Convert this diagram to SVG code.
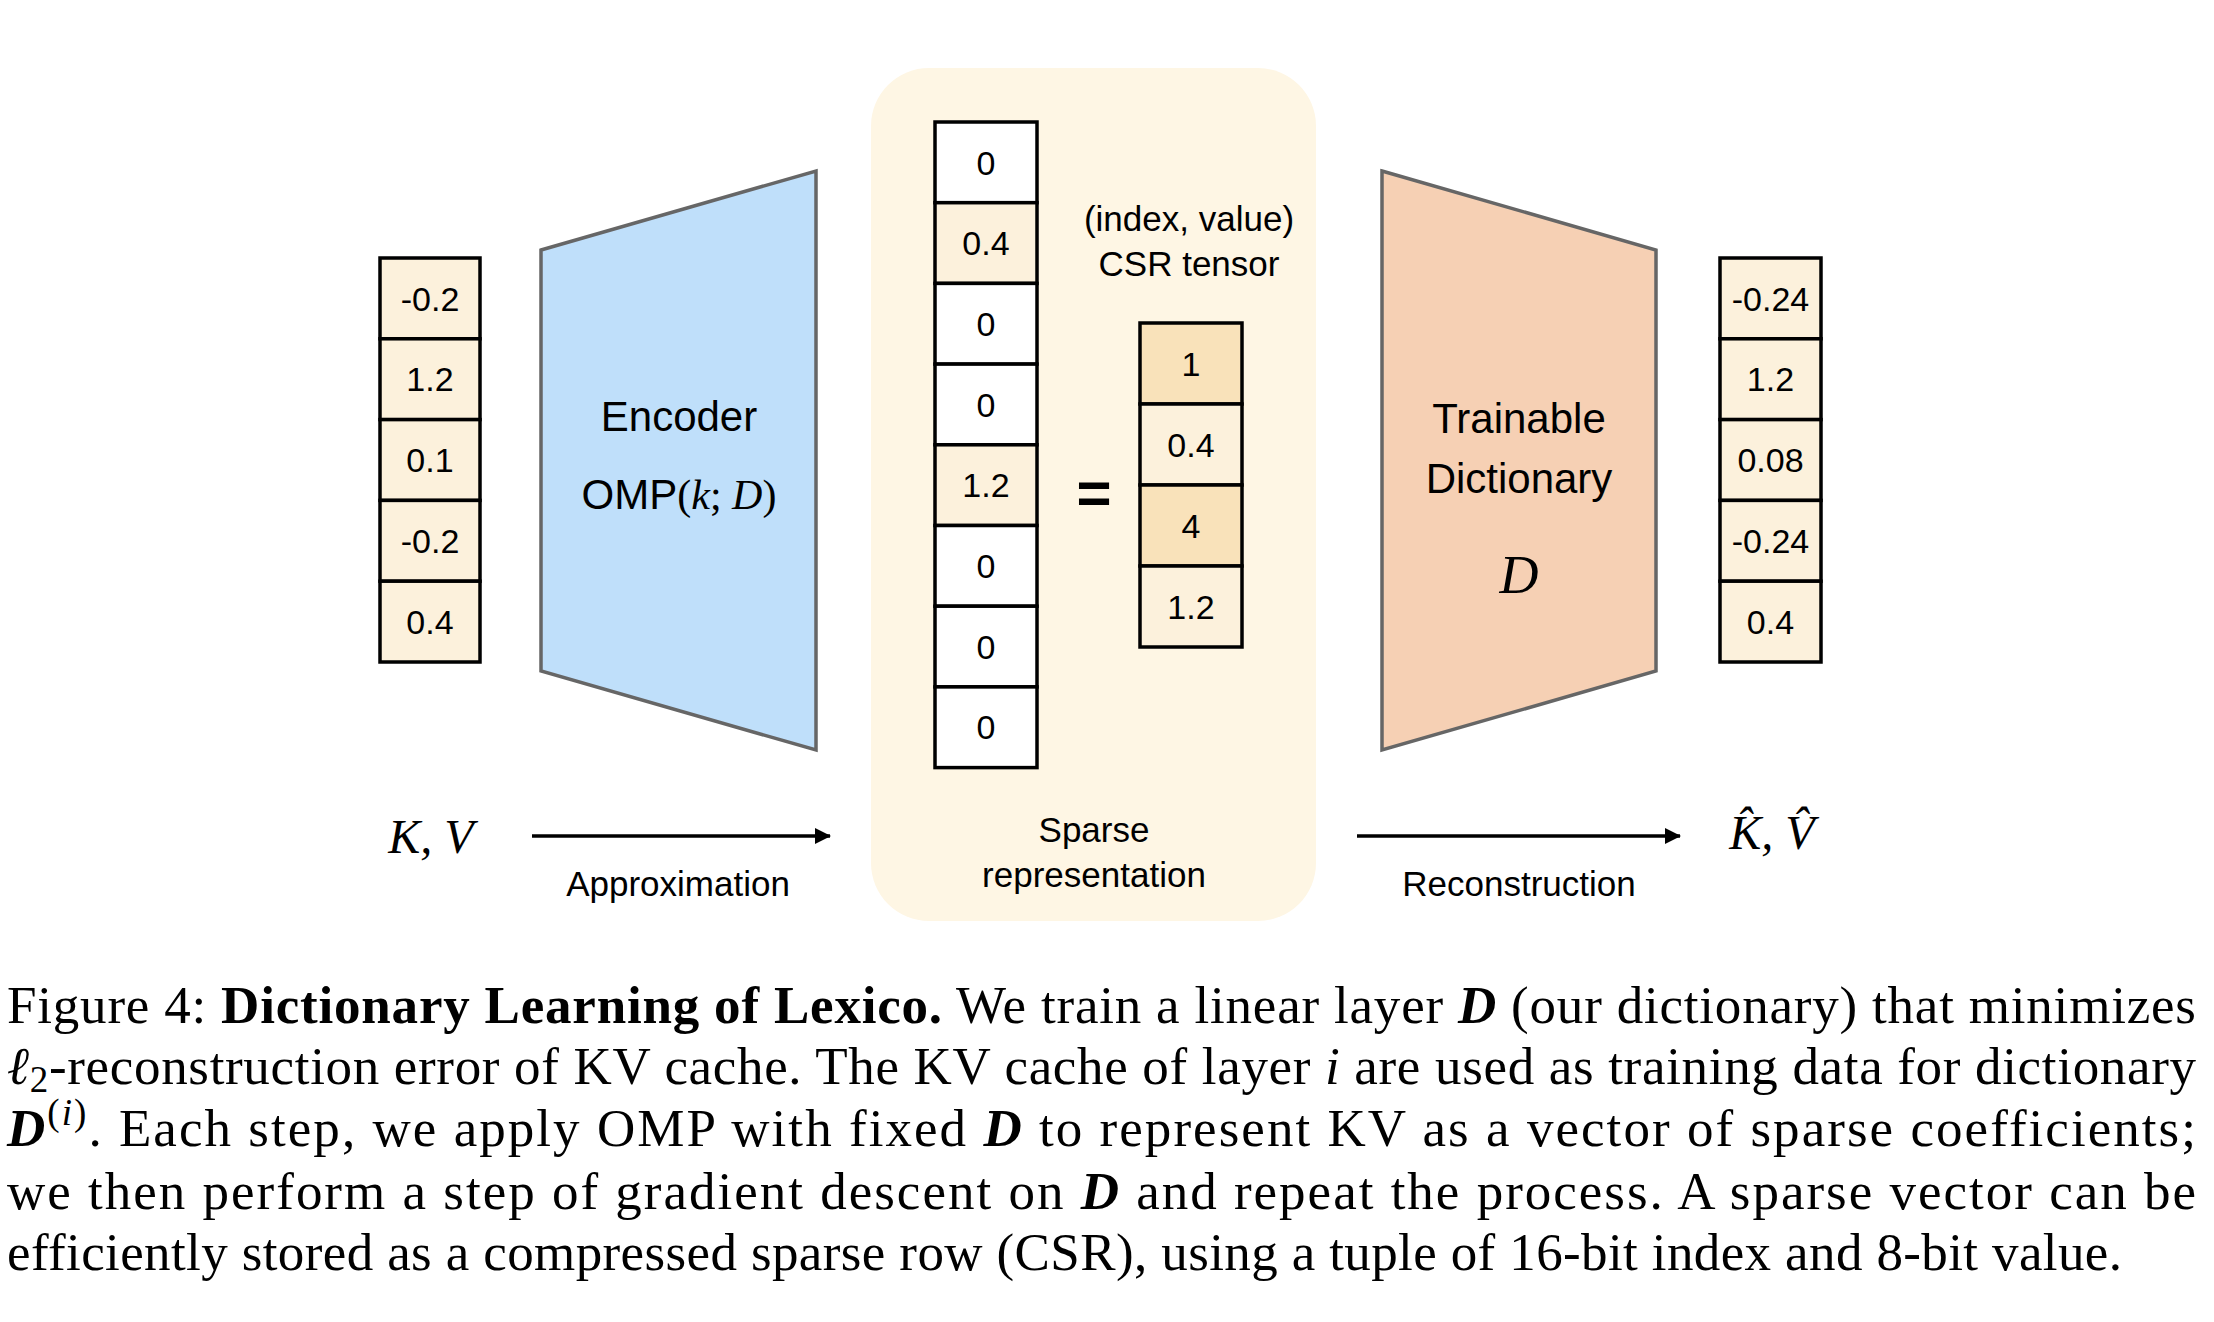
<svg xmlns="http://www.w3.org/2000/svg" width="2214" height="1322" viewBox="0 0 2214 1322">
<style>
.cell{stroke:#000;stroke-width:3.5}
.cream{fill:#FCF1DC}
.white{fill:#FFFFFF}
.idx{fill:#F9E2BA}
.num{font-family:"Liberation Sans",Arial,sans-serif;font-size:34px;text-anchor:middle;fill:#000}
.lbl{font-family:"Liberation Sans",Arial,sans-serif;font-size:35px;text-anchor:middle;fill:#000}
.big{font-family:"Liberation Sans",Arial,sans-serif;font-size:42px;text-anchor:middle;fill:#000}
.math{font-family:"Liberation Serif","Times New Roman",serif;fill:#000}
.it{font-style:italic}
.cap{font-family:"Liberation Serif","Times New Roman",serif;font-size:53px;fill:#000}
.b{font-weight:bold}
.bi{font-weight:bold;font-style:italic}
.trap{stroke:#666;stroke-width:3.5}
.arrow{stroke:#000;stroke-width:3.5;fill:none}
</style>
<defs>
<marker id="ah" markerWidth="16" markerHeight="16" viewBox="0 0 16 16" refX="15" refY="8" orient="auto" markerUnits="userSpaceOnUse">
<path d="M0,0 L16,8 L0,16 Z" fill="#000"/>
</marker>
</defs>
<rect width="2214" height="1322" fill="#fff"/>

<g id="sparse-background">
<rect x="871" y="68" width="445" height="853" rx="58" ry="58" fill="#FEF6E4"/>
</g>

<g id="input-vector">
<rect class="cell cream" x="380" y="258" width="100" height="80.8"/>
<rect class="cell cream" x="380" y="338.8" width="100" height="80.8"/>
<rect class="cell cream" x="380" y="419.6" width="100" height="80.8"/>
<rect class="cell cream" x="380" y="500.4" width="100" height="80.8"/>
<rect class="cell cream" x="380" y="581.2" width="100" height="80.8"/>
<text class="num" x="430" y="311">-0.2</text>
<text class="num" x="430" y="391">1.2</text>
<text class="num" x="430" y="472">0.1</text>
<text class="num" x="430" y="553">-0.2</text>
<text class="num" x="430" y="634">0.4</text>
</g>

<g id="encoder">
<polygon class="trap" points="541,250 816,171 816,750 541,671" fill="#BFDFFA"/>
<text class="big" x="679" y="431">Encoder</text>
<text x="679" y="509" text-anchor="middle" font-size="42"><tspan font-family="Liberation Sans, Arial, sans-serif">OMP</tspan><tspan class="math">(</tspan><tspan class="math it">k</tspan><tspan class="math">; </tspan><tspan class="math it">D</tspan><tspan class="math">)</tspan></text>
</g>

<g id="sparse-vector">
<rect class="cell white" x="935" y="122" width="102" height="80.7"/>
<rect class="cell cream" x="935" y="202.7" width="102" height="80.7"/>
<rect class="cell white" x="935" y="283.4" width="102" height="80.7"/>
<rect class="cell white" x="935" y="364.1" width="102" height="80.7"/>
<rect class="cell cream" x="935" y="444.8" width="102" height="80.7"/>
<rect class="cell white" x="935" y="525.5" width="102" height="80.7"/>
<rect class="cell white" x="935" y="606.2" width="102" height="80.7"/>
<rect class="cell white" x="935" y="686.9" width="102" height="80.7"/>
<text class="num" x="986" y="175">0</text>
<text class="num" x="986" y="255">0.4</text>
<text class="num" x="986" y="336">0</text>
<text class="num" x="986" y="417">0</text>
<text class="num" x="986" y="497">1.2</text>
<text class="num" x="986" y="578">0</text>
<text class="num" x="986" y="659">0</text>
<text class="num" x="986" y="739">0</text>
</g>

<g id="equals">
<text class="lbl" x="1094" y="513" style="font-size:60px;font-weight:bold">=</text>
</g>

<g id="csr-label">
<text class="lbl" x="1189" y="231">(index, value)</text>
<text class="lbl" x="1189" y="276">CSR tensor</text>
</g>

<g id="csr-tensor">
<rect class="cell idx" x="1140" y="323" width="102" height="81"/>
<rect class="cell cream" x="1140" y="404" width="102" height="81"/>
<rect class="cell idx" x="1140" y="485" width="102" height="81"/>
<rect class="cell cream" x="1140" y="566" width="102" height="81"/>
<text class="num" x="1191" y="376">1</text>
<text class="num" x="1191" y="457">0.4</text>
<text class="num" x="1191" y="538">4</text>
<text class="num" x="1191" y="619">1.2</text>
</g>

<g id="sparse-label">
<text class="lbl" x="1094" y="842">Sparse</text>
<text class="lbl" x="1094" y="887">representation</text>
</g>

<g id="dictionary">
<polygon class="trap" points="1382,171 1656,250 1656,671 1382,750" fill="#F6D0B4"/>
<text class="big" x="1519" y="433">Trainable</text>
<text class="big" x="1519" y="493">Dictionary</text>
<text class="math it" x="1519" y="593" text-anchor="middle" font-size="54">D</text>
</g>

<g id="output-vector">
<rect class="cell cream" x="1720" y="258" width="101" height="80.8"/>
<rect class="cell cream" x="1720" y="338.8" width="101" height="80.8"/>
<rect class="cell cream" x="1720" y="419.6" width="101" height="80.8"/>
<rect class="cell cream" x="1720" y="500.4" width="101" height="80.8"/>
<rect class="cell cream" x="1720" y="581.2" width="101" height="80.8"/>
<text class="num" x="1770.5" y="311">-0.24</text>
<text class="num" x="1770.5" y="391">1.2</text>
<text class="num" x="1770.5" y="472">0.08</text>
<text class="num" x="1770.5" y="553">-0.24</text>
<text class="num" x="1770.5" y="634">0.4</text>
</g>

<g id="kv-input">
<text class="math it" x="431" y="853" text-anchor="middle" font-size="48">K, V</text>
</g>

<g id="kv-output">
<text class="math it" x="1772" y="849" text-anchor="middle" font-size="48">K&#x302;, V&#x302;</text>
</g>

<g id="connectors">
<line class="arrow" x1="532" y1="836" x2="830" y2="836" marker-end="url(#ah)"/>
<line class="arrow" x1="1357" y1="836" x2="1680" y2="836" marker-end="url(#ah)"/>
<text class="lbl" x="678" y="896">Approximation</text>
<text class="lbl" x="1519" y="896">Reconstruction</text>
</g>

<g id="caption">
<text class="cap" x="7" y="1023" textLength="2189" lengthAdjust="spacing">Figure 4: <tspan class="b">Dictionary Learning of Lexico.</tspan> We train a linear layer <tspan class="bi">D</tspan> (our dictionary) that minimizes</text>
<text class="cap" x="7" y="1084" textLength="2189" lengthAdjust="spacing"><tspan class="it">ℓ</tspan><tspan font-size="37" dy="8">2</tspan><tspan dy="-8">-reconstruction error of KV cache. The KV cache of layer </tspan><tspan class="it">i</tspan> are used as training data for dictionary</text>
<text class="cap" x="7" y="1146" textLength="2189" lengthAdjust="spacing"><tspan class="bi">D</tspan><tspan font-size="37" dy="-21">(</tspan><tspan font-size="37" class="it">i</tspan><tspan font-size="37">)</tspan><tspan dy="21">.  Each step, we apply OMP with fixed </tspan><tspan class="bi">D</tspan> to represent KV as a vector of sparse coefficients;</text>
<text class="cap" x="7" y="1209" textLength="2189" lengthAdjust="spacing">we then perform a step of gradient descent on <tspan class="bi">D</tspan> and repeat the process.  A sparse vector can be</text>
<text class="cap" x="7" y="1270" textLength="2115" lengthAdjust="spacing">efficiently stored as a compressed sparse row (CSR), using a tuple of 16-bit index and 8-bit value.</text>
</g>
</svg>
